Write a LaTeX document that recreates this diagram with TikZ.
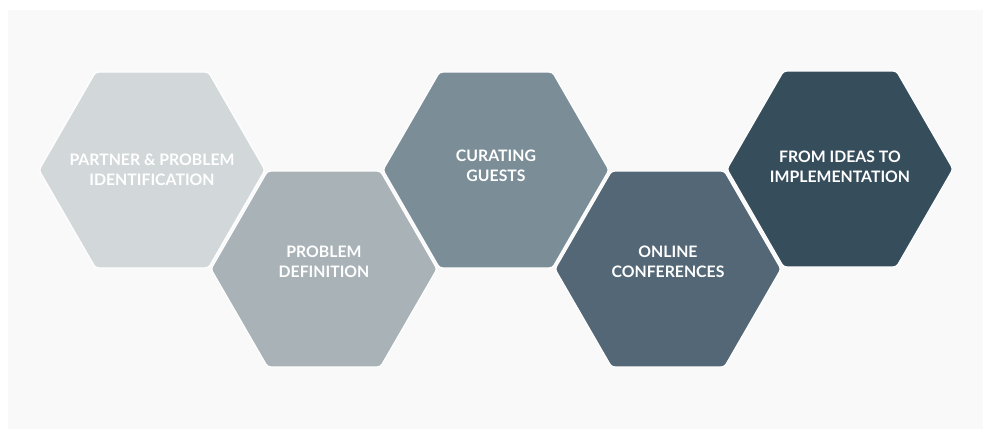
\documentclass[tikz,border=0pt]{standalone}
\usepackage{fontspec}
\setmainfont{Lato}
\usetikzlibrary{shapes.geometric}

\definecolor{bggray}{HTML}{F9F9F9}
\definecolor{hexone}{HTML}{D2D7DA}
\definecolor{hextwo}{HTML}{A9B2B7}
\definecolor{hexthree}{HTML}{7B8E98}
\definecolor{hexfour}{HTML}{536776}
\definecolor{hexfive}{HTML}{364D5C}

\begin{document}
\begin{tikzpicture}[x=1pt,y=-1pt,
    hexcell/.style={regular polygon, regular polygon sides=6, minimum size=226pt,
      inner sep=0pt, draw=white, line width=1.2pt, rounded corners=3pt},
    hexlabel/.style={text=white, align=center,
      font=\fontsize{15.8}{20.5}\selectfont\bfseries}]
      % Page and background panel
      \useasboundingbox (0,0) rectangle (983,429);
      \fill[bggray] (8,10) rectangle (983,429);

      % Draw the hexagons, left to right
      \node[hexcell, fill=hexone]   (partner)  at (152,170) {};
      \node[hexcell, fill=hextwo]   (problem)  at (324,269) {};
      \node[hexcell, fill=hexthree] (curating) at (496,170) {};
      \node[hexcell, fill=hexfour]  (online)   at (668,269) {};
      \node[hexcell, fill=hexfive]  (ideas)    at (840,169) {};

      % Labels
      \node[hexlabel] (partnertext)  at ([yshift=0pt]partner.center)  {PARTNER \& PROBLEM\\IDENTIFICATION};
      \node[hexlabel] (problemtext)  at ([yshift=7pt]problem.center)  {PROBLEM\\DEFINITION};
      \node[hexlabel] (curatingtext) at ([yshift=4pt]curating.center) {CURATING\\GUESTS};
      \node[hexlabel] (onlinetext)   at ([yshift=7pt]online.center)   {ONLINE\\CONFERENCES};
      \node[hexlabel] (ideastext)    at ([yshift=2pt]ideas.center)    {FROM IDEAS TO\\IMPLEMENTATION};
  \end{tikzpicture}
\end{document}
